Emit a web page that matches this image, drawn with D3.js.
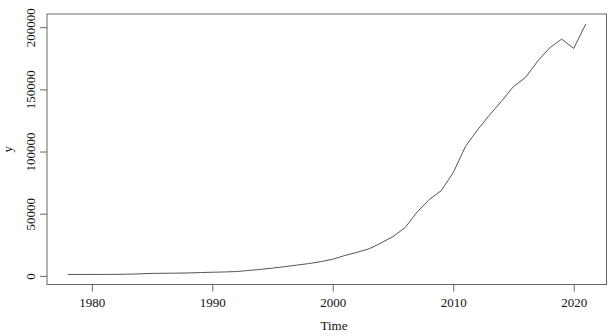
<!DOCTYPE html>
<html>
<head>
<meta charset="utf-8">
<script src="https://cdn.jsdelivr.net/npm/d3@7"></script>
<style>
  body { margin: 0; background: #fff; }
  text { font-family: "Liberation Serif", "Times New Roman", serif; fill: #111; }
</style>
</head>
<body>
<script>
let years = d3.range(1978, 2022);
let values = [1132, 1146, 1160, 1176, 1212, 1367, 1643, 2005, 2122, 2199,
              2357, 2665, 2937, 3149, 3483, 4349, 5218, 6242, 7408, 8651,
              9876, 11444, 13395, 16386, 18904, 21715, 26396, 31649, 38760, 51322,
              61330, 68518, 83102, 103874, 117254, 129210, 140370, 152269, 159605, 172593,
              183360, 190390, 182895, 202539];
let xTicks = [1980, 1990, 2000, 2010, 2020];
let yTicks = [0, 50000, 100000, 150000, 200000];

let data = years.map((d, i) => ({year: d, val: values[i]}));

let width = 614, height = 336;
let plotLeft = 47, plotRight = 606.5, plotTop = 14, plotBottom = 284.5;

let svg = d3.select("body")
            .append("svg")
            .attr("width", width)
            .attr("height", height);

// R style 4% padding on both axes
let xPad = (years[years.length - 1] - years[0]) * 0.04;
let yMin = d3.min(values), yMax = d3.max(values);
let yPad = (yMax - yMin) * 0.04;

let x = d3.scaleLinear()
          .domain([years[0] - xPad, years[years.length - 1] + xPad])
          .range([plotLeft, plotRight]);
let y = d3.scaleLinear()
          .domain([yMin - yPad, yMax + yPad])
          .range([plotBottom, plotTop]);

svg.append("rect")
   .attr("x", plotLeft)
   .attr("y", plotTop)
   .attr("width", plotRight - plotLeft)
   .attr("height", plotBottom - plotTop)
   .attr("fill", "none")
   .attr("stroke", "#666")
   .attr("stroke-width", 1);

let xAxis = svg.append("g")
   .attr("transform", "translate(0," + plotBottom + ")")
   .call(d3.axisBottom(x).tickValues(xTicks).tickSize(7).tickPadding(6).tickFormat(d3.format("d")));
xAxis.select(".domain").remove();
xAxis.selectAll("line").attr("stroke", "#666");
xAxis.selectAll("text").style("font-size", "13px").attr("fill", "#111");

let yAxis = svg.append("g")
   .attr("transform", "translate(" + plotLeft + ",0)")
   .call(d3.axisLeft(y).tickValues(yTicks).tickSize(7).tickFormat(d3.format("d")));
yAxis.select(".domain").remove();
yAxis.selectAll("line").attr("stroke", "#666");
yAxis.selectAll("text")
     .style("font-size", "13px")
     .attr("fill", "#111")
     .attr("x", 0)
     .attr("dy", 0)
     .attr("text-anchor", "middle")
     .attr("transform", "translate(-12,0) rotate(-90)");

svg.append("path")
   .datum(data)
   .attr("fill", "none")
   .attr("stroke", "#555")
   .attr("stroke-width", 1)
   .attr("d", d3.line().x(d => x(d.year)).y(d => y(d.val)));

svg.append("text")
   .attr("x", 334)
   .attr("y", 330)
   .attr("text-anchor", "middle")
   .style("font-size", "13px")
   .text("Time");

svg.append("text")
   .attr("transform", "translate(12," + ((plotTop + plotBottom) / 2) + ") rotate(-90)")
   .attr("text-anchor", "middle")
   .style("font-size", "13px")
   .text("y");
</script>
</body>
</html>
